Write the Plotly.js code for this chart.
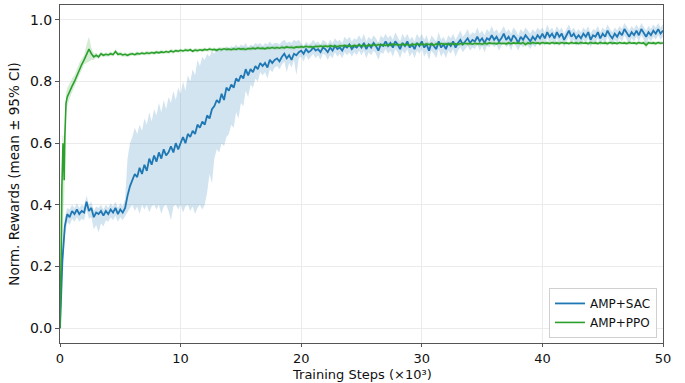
<!DOCTYPE html>
<html>
<head>
<meta charset="utf-8">
<script src="https://cdn.plot.ly/plotly-3.0.1.min.js"></script>
<style>html,body{margin:0;padding:0;background:#fff;}#chart{width:685px;height:383px;}</style>
</head>
<body>
<div id="chart"></div>
<script>
// Training steps grid (x 10^3), step 0.2 from 0 to 50
const stepGrid = [];
for (let i = 0; i <= 250; i++) stepGrid.push(+(i * 0.2).toFixed(1));

const seriesNames = ["AMP+SAC", "AMP+PPO"];
const xTitle = 'Training Steps (×10³)';
const yTitle = 'Norm. Rewards (mean ± 95% CI)';

// AMP+SAC mean
const sacMean = [
0.00,0.22,0.33,0.37,0.36,0.38,0.37,0.385,0.37,0.38,
0.375,0.41,0.38,0.39,0.36,0.375,0.37,0.38,0.365,0.38,
0.37,0.385,0.375,0.39,0.37,0.385,0.375,0.39,0.43,0.46,
0.48,0.50,0.49,0.52,0.50,0.53,0.51,0.55,0.53,0.56,
0.54,0.57,0.55,0.58,0.56,0.57,0.59,0.57,0.60,0.58,
0.60,0.62,0.60,0.63,0.62,0.64,0.63,0.66,0.65,0.67,
0.66,0.69,0.68,0.71,0.72,0.74,0.73,0.76,0.74,0.78,
0.77,0.79,0.78,0.81,0.80,0.82,0.81,0.84,0.82,0.84,
0.83,0.85,0.84,0.86,0.85,0.86,0.845,0.87,0.86,0.87,
0.875,0.865,0.88,0.89,0.875,0.885,0.87,0.89,0.885,0.895,
0.90,0.89,0.905,0.895,0.90,0.91,0.90,0.905,0.895,0.91,
0.905,0.895,0.91,0.90,0.915,0.905,0.91,0.90,0.915,0.91,
0.92,0.905,0.915,0.91,0.92,0.91,0.925,0.905,0.92,0.91,
0.925,0.915,0.90,0.92,0.915,0.93,0.915,0.925,0.91,0.93,
0.92,0.905,0.925,0.915,0.93,0.91,0.92,0.905,0.925,0.915,
0.93,0.91,0.92,0.90,0.925,0.915,0.905,0.93,0.91,0.92,
0.905,0.925,0.915,0.93,0.91,0.925,0.935,0.92,0.93,0.94,
0.925,0.935,0.93,0.945,0.93,0.94,0.925,0.94,0.935,0.95,
0.935,0.945,0.93,0.94,0.955,0.935,0.945,0.93,0.95,0.94,
0.925,0.945,0.935,0.95,0.94,0.93,0.945,0.935,0.95,0.94,
0.955,0.94,0.96,0.945,0.955,0.94,0.96,0.945,0.955,0.935,
0.95,0.965,0.945,0.955,0.94,0.95,0.94,0.955,0.945,0.96,
0.935,0.95,0.945,0.96,0.94,0.955,0.945,0.965,0.95,0.94,
0.955,0.945,0.96,0.95,0.97,0.955,0.945,0.96,0.95,0.965,
0.95,0.97,0.955,0.945,0.96,0.95,0.965,0.955,0.97,0.955,
0.965];

// AMP+SAC upper 95% CI
const sacUpper = [
0.00,0.25,0.36,0.39,0.385,0.40,0.39,0.405,0.39,0.40,
0.395,0.43,0.40,0.41,0.38,0.395,0.39,0.40,0.385,0.40,
0.39,0.405,0.395,0.41,0.39,0.405,0.395,0.42,0.55,0.60,
0.62,0.65,0.63,0.66,0.64,0.68,0.66,0.70,0.67,0.71,
0.69,0.73,0.70,0.74,0.71,0.75,0.73,0.77,0.74,0.78,
0.76,0.80,0.77,0.82,0.80,0.84,0.82,0.87,0.85,0.88,
0.87,0.89,0.88,0.90,0.89,0.91,0.90,0.91,0.90,0.915,
0.905,0.915,0.91,0.92,0.91,0.92,0.915,0.925,0.91,0.92,
0.915,0.925,0.92,0.925,0.915,0.925,0.92,0.93,0.92,0.925,
0.925,0.92,0.93,0.935,0.925,0.93,0.925,0.935,0.93,0.935,
0.925,0.915,0.93,0.92,0.925,0.935,0.925,0.93,0.92,0.935,
0.93,0.92,0.935,0.925,0.94,0.93,0.935,0.925,0.945,0.935,
0.945,0.93,0.94,0.935,0.95,0.935,0.955,0.93,0.945,0.935,
0.95,0.94,0.925,0.95,0.94,0.955,0.94,0.95,0.935,0.96,
0.945,0.93,0.955,0.94,0.955,0.935,0.945,0.93,0.955,0.94,
0.955,0.935,0.95,0.925,0.95,0.94,0.93,0.96,0.935,0.945,
0.93,0.95,0.94,0.955,0.935,0.95,0.965,0.945,0.955,0.97,
0.95,0.96,0.955,0.975,0.955,0.965,0.95,0.97,0.96,0.98,
0.96,0.97,0.955,0.965,0.98,0.96,0.97,0.955,0.975,0.965,
0.95,0.97,0.96,0.975,0.965,0.955,0.97,0.96,0.975,0.965,
0.975,0.96,0.985,0.965,0.975,0.96,0.98,0.965,0.975,0.955,
0.97,0.985,0.965,0.975,0.96,0.97,0.96,0.975,0.965,0.98,
0.955,0.97,0.965,0.98,0.96,0.975,0.965,0.985,0.97,0.96,
0.975,0.965,0.98,0.97,0.99,0.975,0.965,0.98,0.97,0.985,
0.97,0.99,0.975,0.965,0.98,0.97,0.985,0.975,0.99,0.975,
0.985];

// AMP+SAC lower 95% CI
const sacLower = [
0.00,0.18,0.30,0.345,0.335,0.355,0.345,0.36,0.345,0.355,
0.35,0.385,0.355,0.36,0.32,0.335,0.31,0.34,0.33,0.35,
0.345,0.36,0.35,0.365,0.345,0.36,0.35,0.365,0.38,0.39,
0.40,0.38,0.395,0.37,0.40,0.385,0.40,0.375,0.395,0.40,
0.385,0.40,0.37,0.395,0.40,0.38,0.35,0.395,0.40,0.385,
0.40,0.375,0.395,0.40,0.38,0.395,0.37,0.39,0.40,0.385,
0.40,0.44,0.50,0.47,0.55,0.58,0.57,0.60,0.59,0.62,
0.63,0.66,0.65,0.70,0.68,0.73,0.72,0.77,0.75,0.79,
0.78,0.81,0.80,0.83,0.82,0.83,0.81,0.84,0.83,0.845,
0.85,0.84,0.855,0.865,0.83,0.86,0.845,0.87,0.82,0.875,
0.88,0.865,0.885,0.87,0.88,0.89,0.875,0.885,0.87,0.89,
0.885,0.87,0.885,0.875,0.895,0.88,0.89,0.875,0.895,0.885,
0.895,0.88,0.895,0.885,0.90,0.885,0.90,0.875,0.895,0.885,
0.90,0.89,0.87,0.895,0.89,0.905,0.89,0.90,0.88,0.905,
0.895,0.875,0.90,0.89,0.905,0.88,0.895,0.875,0.90,0.89,
0.905,0.88,0.895,0.87,0.90,0.89,0.875,0.905,0.88,0.895,
0.875,0.90,0.89,0.905,0.88,0.90,0.91,0.895,0.905,0.915,
0.90,0.91,0.905,0.92,0.90,0.915,0.895,0.915,0.91,0.925,
0.91,0.92,0.90,0.915,0.93,0.91,0.92,0.90,0.925,0.915,
0.90,0.92,0.91,0.925,0.915,0.905,0.92,0.91,0.925,0.915,
0.935,0.915,0.94,0.925,0.935,0.915,0.94,0.92,0.935,0.91,
0.93,0.945,0.92,0.935,0.915,0.93,0.915,0.935,0.925,0.94,
0.91,0.93,0.925,0.94,0.915,0.935,0.925,0.945,0.93,0.915,
0.935,0.925,0.94,0.93,0.95,0.935,0.92,0.94,0.93,0.945,
0.93,0.95,0.935,0.92,0.94,0.93,0.945,0.935,0.95,0.935,
0.945];

// AMP+PPO: fine early steps (0 .. 1.0)
const ppoEarlyX = [0,0.05,0.1,0.15,0.2,0.25,0.3,0.35,0.4,0.45,0.5,0.6,0.7,0.8,0.9,1.0];
const ppoEarlyMean = [0.0,0.10,0.25,0.45,0.58,0.60,0.55,0.48,0.62,0.70,0.73,0.75,0.76,0.77,0.775,0.785];
const ppoEarlyLower = [0.0,0.02,0.08,0.12,0.25,0.35,0.40,0.42,0.55,0.65,0.70,0.72,0.735,0.745,0.755,0.765];
const ppoEarlyUpper = [0.0,0.15,0.38,0.58,0.62,0.63,0.62,0.58,0.66,0.73,0.76,0.78,0.785,0.795,0.80,0.81];

// AMP+PPO mean on step grid from 1.2 to 50
const ppoMean = [
0.80,0.82,0.84,0.855,
0.87,0.89,0.905,0.89,0.88,0.885,0.88,0.89,0.885,0.888,
0.886,0.89,0.887,0.897,0.888,0.89,0.886,0.888,0.885,0.888,
0.89,0.887,0.891,0.889,0.892,0.89,0.893,0.891,0.894,0.892,
0.895,0.893,0.896,0.894,0.897,0.895,0.899,0.896,0.9,0.898,
0.901,0.899,0.902,0.9,0.903,0.898,0.902,0.9,0.903,0.901,
0.904,0.902,0.905,0.903,0.904,0.901,0.905,0.903,0.906,0.904,
0.905,0.903,0.906,0.904,0.907,0.905,0.906,0.904,0.907,0.906,
0.908,0.906,0.909,0.907,0.908,0.906,0.909,0.908,0.91,0.908,
0.91,0.908,0.911,0.909,0.912,0.91,0.911,0.909,0.912,0.911,
0.913,0.911,0.914,0.912,0.913,0.911,0.914,0.913,0.915,0.913,
0.915,0.913,0.916,0.914,0.915,0.913,0.916,0.915,0.917,0.915,
0.916,0.914,0.917,0.915,0.918,0.916,0.917,0.915,0.918,0.917,
0.919,0.917,0.92,0.918,0.919,0.917,0.92,0.918,0.921,0.919,
0.92,0.918,0.921,0.919,0.92,0.917,0.921,0.919,0.922,0.92,
0.921,0.919,0.922,0.92,0.921,0.918,0.922,0.92,0.923,0.921,
0.922,0.92,0.923,0.921,0.922,0.92,0.923,0.921,0.924,0.922,
0.923,0.921,0.924,0.922,0.923,0.921,0.924,0.922,0.925,0.923,
0.924,0.922,0.925,0.923,0.924,0.922,0.925,0.923,0.925,0.924,
0.925,0.923,0.926,0.92,0.925,0.923,0.926,0.924,0.925,0.923,
0.926,0.924,0.925,0.923,0.926,0.924,0.925,0.923,0.926,0.924,
0.925,0.923,0.926,0.924,0.925,0.923,0.926,0.924,0.925,0.923,
0.926,0.924,0.925,0.923,0.926,0.924,0.925,0.923,0.926,0.924,
0.925,0.923,0.926,0.924,0.925,0.923,0.926,0.924,0.925,0.923,
0.926,0.924,0.925,0.918,0.926,0.924,0.925,0.923,0.926,0.924,
0.925];

// AMP+PPO 95% CI half-width on step grid from 1.2 to 50
const ppoCI = [
0.02,0.02,0.02,0.018,
0.015,0.03,0.04,0.02,0.01,0.008,0.007,0.008,0.006,0.007,
0.006,0.007,0.006,0.008,0.006,0.007,0.006,0.007,0.006,0.007,
0.006,0.005,0.007,0.005,0.006,0.005,0.007,0.006,0.005,0.006,
0.006,0.005,0.007,0.005,0.006,0.005,0.007,0.006,0.005,0.006,
0.006,0.005,0.007,0.005,0.006,0.005,0.007,0.006,0.005,0.006,
0.006,0.005,0.007,0.005,0.006,0.005,0.007,0.006,0.005,0.006,
0.006,0.005,0.007,0.005,0.006,0.005,0.007,0.006,0.005,0.006,
0.006,0.005,0.007,0.005,0.006,0.005,0.007,0.006,0.005,0.006,
0.006,0.005,0.007,0.005,0.006,0.005,0.007,0.006,0.005,0.006,
0.006,0.005,0.007,0.005,0.006,0.005,0.007,0.006,0.005,0.006,
0.006,0.005,0.007,0.005,0.006,0.005,0.007,0.006,0.005,0.006,
0.006,0.005,0.007,0.005,0.006,0.005,0.007,0.006,0.005,0.006,
0.006,0.005,0.007,0.005,0.006,0.005,0.007,0.006,0.005,0.006,
0.006,0.005,0.007,0.005,0.006,0.005,0.007,0.006,0.005,0.006,
0.006,0.005,0.007,0.005,0.006,0.005,0.007,0.006,0.005,0.006,
0.006,0.005,0.007,0.005,0.006,0.005,0.007,0.006,0.005,0.006,
0.006,0.005,0.007,0.005,0.006,0.005,0.007,0.006,0.005,0.006,
0.006,0.005,0.007,0.005,0.006,0.005,0.007,0.006,0.005,0.006,
0.006,0.005,0.007,0.008,0.006,0.005,0.007,0.006,0.005,0.006,
0.006,0.005,0.007,0.005,0.006,0.005,0.007,0.006,0.005,0.006,
0.006,0.005,0.007,0.005,0.006,0.005,0.007,0.006,0.005,0.006,
0.006,0.005,0.007,0.005,0.006,0.005,0.007,0.006,0.005,0.006,
0.006,0.005,0.007,0.005,0.006,0.005,0.007,0.006,0.005,0.006,
0.006,0.005,0.007,0.01,0.006,0.005,0.007,0.006,0.005,0.006,
0.005];

const xTicks = [0,10,20,30,40,50];
const yTicks = [0.0,0.2,0.4,0.6,0.8,1.0];

// assemble PPO arrays
const ppoGridX = stepGrid.slice(6);
const ppoX = ppoEarlyX.concat(ppoGridX);
const ppoY = ppoEarlyMean.concat(ppoMean);
const ppoLo = ppoEarlyLower.concat(ppoMean.map((m, i) => m - ppoCI[i]));
const ppoHi = ppoEarlyUpper.concat(ppoMean.map((m, i) => m + ppoCI[i]));

const blue = '#1f77b4', green = '#2ca02c';
const traces = [
  {x: stepGrid, y: sacLower, mode: 'lines', line: {width: 0, color: blue}, showlegend: false, hoverinfo: 'skip'},
  {x: stepGrid, y: sacUpper, mode: 'lines', line: {width: 0, color: blue}, fill: 'tonexty', fillcolor: 'rgba(31,119,180,0.2)', showlegend: false, hoverinfo: 'skip'},
  {x: stepGrid, y: sacMean, mode: 'lines', name: seriesNames[0], line: {color: blue, width: 1.8}},
  {x: ppoX, y: ppoLo, mode: 'lines', line: {width: 0, color: green}, showlegend: false, hoverinfo: 'skip'},
  {x: ppoX, y: ppoHi, mode: 'lines', line: {width: 0, color: green}, fill: 'tonexty', fillcolor: 'rgba(44,160,44,0.2)', showlegend: false, hoverinfo: 'skip'},
  {x: ppoX, y: ppoY, mode: 'lines', name: seriesNames[1], line: {color: green, width: 1.6}}
];

const ff = 'DejaVu Sans, sans-serif';
const layout = {
  width: 685, height: 383,
  margin: {l: 60, r: 22, t: 5, b: 40},
  paper_bgcolor: '#fff', plot_bgcolor: '#fff',
  font: {family: ff, size: 14, color: '#111'},
  showlegend: true,
  legend: {x: 0.99, y: 0.015, xanchor: 'right', yanchor: 'bottom', traceorder: 'normal',
    bgcolor: 'rgba(255,255,255,0.9)', bordercolor: '#d0d0d0', borderwidth: 1,
    font: {family: ff, size: 12, color: '#111'}},
  xaxis: {
    range: [0, 50], tickvals: xTicks, ticktext: xTicks.map(String),
    showgrid: true, gridcolor: '#ebebeb', gridwidth: 1, zeroline: false,
    showline: true, linecolor: '#555', linewidth: 1, mirror: true,
    ticks: 'outside', ticklen: 3, tickcolor: '#555',
    tickfont: {family: ff, size: 13, color: '#111'}
  },
  yaxis: {
    range: [-0.048, 1.048], tickvals: yTicks, ticktext: yTicks.map(v => v.toFixed(1)),
    showgrid: true, gridcolor: '#ebebeb', gridwidth: 1, zeroline: false,
    showline: true, linecolor: '#555', linewidth: 1, mirror: true,
    ticks: 'outside', ticklen: 4, tickcolor: '#555',
    tickfont: {family: ff, size: 14, color: '#111'},
    title: {text: yTitle, font: {family: ff, size: 13.5, color: '#111'}, standoff: 7}
  },
  annotations: [{
    text: xTitle, xref: 'paper', yref: 'paper', x: 0.5, y: -0.118,
    xanchor: 'center', yanchor: 'bottom', showarrow: false, borderpad: 0,
    font: {family: ff, size: 13, color: '#111'}
  }]
};

Plotly.newPlot('chart', traces, layout, {displayModeBar: false, staticPlot: true});
</script>
</body>
</html>
